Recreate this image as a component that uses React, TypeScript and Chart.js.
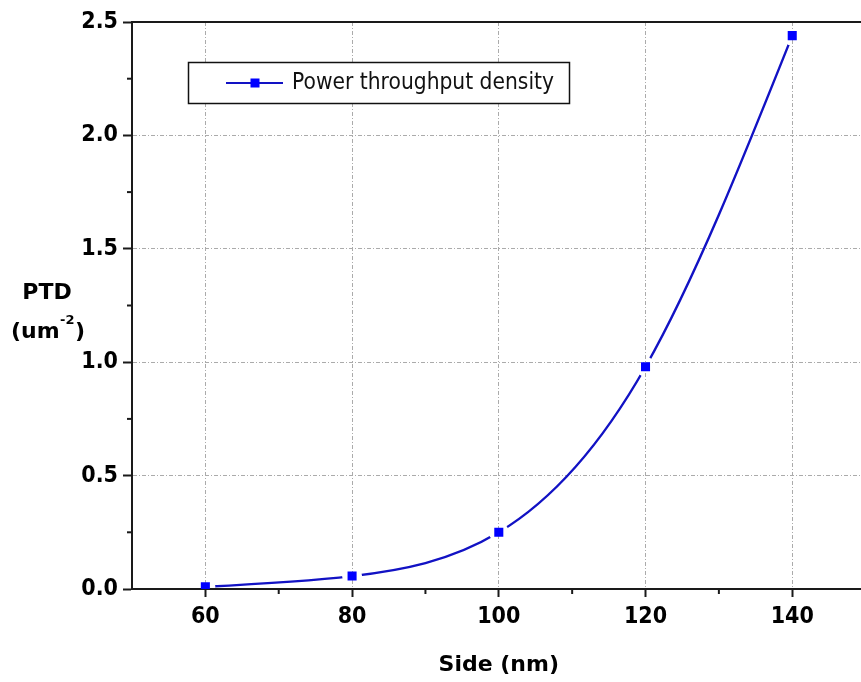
import { useEffect, useRef } from 'react';
import { Chart, registerables } from 'chart.js';

Chart.register(...registerables);

const sides = [60, 80, 100, 120, 140];
const ptd = [0.01, 0.057, 0.25, 0.98, 2.44];
const xTicks = [60, 80, 100, 120, 140];
const xMinorTicks = [70, 90, 110, 130, 150];
const yTicks = [0, 0.5, 1.0, 1.5, 2.0, 2.5];
const yMinorTicks = [0.25, 0.75, 1.25, 1.75, 2.25];
const seriesLabel = 'Power throughput density';
const xTitle = 'Side (nm)';
const yTitle = 'PTD';
const yUnitParts = ['(um', '-2', ')'];

const TICK_FONT = "'DejaVu Sans Condensed', 'DejaVu Sans', sans-serif";
const TITLE_FONT = "'DejaVu Sans', sans-serif";
const LINE_COLOR = '#1212c4';
const MARKER_COLOR = '#0000ff';
const AXIS_COLOR = '#1a1a1a';

// Natural cubic spline control points (in pixel space) for the line element
function applyNaturalSpline(pts: any[]) {
  const n = pts.length;
  if (n < 3) return;
  const xs = pts.map((p) => p.x);
  const ys = pts.map((p) => p.y);
  const h: number[] = [];
  for (let i = 0; i < n - 1; i++) h.push(xs[i + 1] - xs[i]);
  // tridiagonal solve for second derivatives M (natural: M0 = Mn-1 = 0)
  const M = new Array(n).fill(0);
  const m = n - 2;
  const a: number[] = [], b: number[] = [], c: number[] = [], d: number[] = [];
  for (let i = 1; i <= m; i++) {
    a.push(h[i - 1]);
    b.push(2 * (h[i - 1] + h[i]));
    c.push(h[i]);
    d.push(6 * ((ys[i + 1] - ys[i]) / h[i] - (ys[i] - ys[i - 1]) / h[i - 1]));
  }
  for (let i = 1; i < m; i++) {
    const w = a[i] / b[i - 1];
    b[i] -= w * c[i - 1];
    d[i] -= w * d[i - 1];
  }
  const sol = new Array(m).fill(0);
  sol[m - 1] = d[m - 1] / b[m - 1];
  for (let i = m - 2; i >= 0; i--) sol[i] = (d[i] - c[i] * sol[i + 1]) / b[i];
  for (let i = 0; i < m; i++) M[i + 1] = sol[i];
  for (let i = 0; i < n - 1; i++) {
    const hi = h[i];
    const sec = (ys[i + 1] - ys[i]) / hi;
    const d0 = sec - (hi * (2 * M[i] + M[i + 1])) / 6;
    const d1 = sec + (hi * (M[i] + 2 * M[i + 1])) / 6;
    pts[i].cp2x = xs[i] + hi / 3;
    pts[i].cp2y = ys[i] + (hi / 3) * d0;
    pts[i + 1].cp1x = xs[i + 1] - hi / 3;
    pts[i + 1].cp1y = ys[i + 1] - (hi / 3) * d1;
  }
}

const decorPlugin = {
  id: 'decor',
  beforeDatasetDraw(chart: any, args: any) {
    if (args.index !== 0) return;
    const ctx = chart.ctx;
    const meta = chart.getDatasetMeta(0);
    if (meta.dataset && meta.dataset.updateControlPoints) {
      meta.dataset.updateControlPoints(chart.chartArea, 'x');
    }
    applyNaturalSpline(meta.data);
    const pts = chart.getDatasetMeta(1).data;
    ctx.save();
    ctx.beginPath();
    ctx.rect(0, 0, chart.width, chart.height);
    const R = 10;
    pts.forEach((p: any) => {
      ctx.moveTo(p.x + R, p.y);
      ctx.arc(p.x, p.y, R, 0, Math.PI * 2);
    });
    ctx.clip('evenodd');
  },
  afterDatasetDraw(chart: any, args: any) {
    if (args.index !== 0) return;
    chart.ctx.restore();
  },
  afterDraw(chart: any) {
    const ctx = chart.ctx;
    const area = chart.chartArea;
    const xs = chart.scales.x;
    const ys = chart.scales.y;
    ctx.save();
    // top frame line
    ctx.strokeStyle = AXIS_COLOR;
    ctx.lineWidth = 2;
    ctx.beginPath();
    ctx.moveTo(area.left - 1, area.top);
    ctx.lineTo(area.right, area.top);
    ctx.stroke();
    // minor ticks
    ctx.lineWidth = 2;
    xMinorTicks.forEach((v) => {
      const px = xs.getPixelForValue(v);
      ctx.beginPath();
      ctx.moveTo(px, area.bottom);
      ctx.lineTo(px, area.bottom + 5);
      ctx.stroke();
    });
    yMinorTicks.forEach((v) => {
      const py = ys.getPixelForValue(v);
      ctx.beginPath();
      ctx.moveTo(area.left, py);
      ctx.lineTo(area.left - 5, py);
      ctx.stroke();
    });
    // y title
    ctx.fillStyle = '#000';
    ctx.textAlign = 'center';
    ctx.textBaseline = 'alphabetic';
    ctx.font = `bold 22px ${TITLE_FONT}`;
    ctx.fillText(yTitle, 47, 299);
    const bigFont = `bold 22px ${TITLE_FONT}`;
    const smallFont = `bold 13px ${TITLE_FONT}`;
    ctx.font = bigFont;
    const w0 = ctx.measureText(yUnitParts[0]).width;
    const w2 = ctx.measureText(yUnitParts[2]).width;
    ctx.font = smallFont;
    const w1 = ctx.measureText(yUnitParts[1]).width;
    const total = w0 + w1 + w2 + 1;
    let cx = 48 - total / 2;
    ctx.textAlign = 'left';
    ctx.font = bigFont;
    ctx.fillText(yUnitParts[0], cx, 338);
    cx += w0 + 0.5;
    ctx.font = smallFont;
    ctx.fillText(yUnitParts[1], cx, 324);
    cx += w1 + 0.5;
    ctx.font = bigFont;
    ctx.fillText(yUnitParts[2], cx, 338);
    // legend
    const lx = 188.5, ly = 62.5, lw = 381, lh = 41;
    ctx.fillStyle = '#fff';
    ctx.fillRect(lx, ly, lw, lh);
    ctx.strokeStyle = '#111';
    ctx.lineWidth = 1.5;
    ctx.strokeRect(lx, ly, lw, lh);
    const my = ly + lh / 2;
    ctx.strokeStyle = LINE_COLOR;
    ctx.lineWidth = 2.2;
    ctx.beginPath();
    ctx.moveTo(226, my);
    ctx.lineTo(283, my);
    ctx.stroke();
    ctx.fillStyle = MARKER_COLOR;
    ctx.fillRect(250.5, my - 4.5, 9, 9);
    ctx.fillStyle = '#111';
    ctx.font = `23px ${TITLE_FONT}`;
    ctx.textBaseline = 'middle';
    ctx.textAlign = 'left';
    ctx.fillText(chart.data.datasets[0].label, 292, my, 262);
    ctx.restore();
  },
};

export default function App() {
  const ref = useRef<HTMLCanvasElement | null>(null);
  useEffect(() => {
    if (!ref.current) return;
    const points = sides.map((x, i) => ({ x, y: ptd[i] }));
    const chart = new Chart(ref.current, {
      type: 'line',
      data: {
        datasets: [
          {
            label: seriesLabel,
            data: points,
            borderColor: LINE_COLOR,
            borderWidth: 2.4,
            pointRadius: 0,
            tension: 0.4,
            capBezierPoints: false,
            fill: false,
          },
          {
            label: seriesLabel,
            data: points,
            showLine: false,
            pointStyle: 'rect',
            pointRadius: 6.4,
            pointBackgroundColor: MARKER_COLOR,
            pointBorderWidth: 0,
            borderColor: MARKER_COLOR,
          },
        ],
      } as any,
      options: {
        responsive: false,
        animation: false,
        devicePixelRatio: 1,
        layout: { padding: { top: 22, right: 4, left: 0, bottom: 0 } },
        plugins: { legend: { display: false }, tooltip: { enabled: false } },
        events: [],
        scales: {
          x: {
            type: 'linear',
            min: 50,
            max: 150,
            afterBuildTicks: (axis: any) => {
              axis.ticks = xTicks.map((v) => ({ value: v }));
            },
            afterFit: (s: any) => {
              s.height = 93;
            },
            ticks: {
              color: '#000',
              font: { family: TICK_FONT, size: 23, weight: 'bold' },
              padding: 6,
              maxRotation: 0,
              autoSkip: false,
            },
            grid: {
              color: '#ababab',
              lineWidth: 1,
              tickColor: AXIS_COLOR,
              tickLength: 8,
              tickWidth: 2,
            },
            border: { display: true, color: AXIS_COLOR, width: 2, dash: [4, 2, 1, 2] },
            title: {
              display: true,
              text: xTitle,
              color: '#000',
              font: { family: TITLE_FONT, size: 22, weight: 'bold' },
              padding: { top: 0, bottom: 4 },
            },
          },
          y: {
            type: 'linear',
            min: 0,
            max: 2.5,
            afterBuildTicks: (axis: any) => {
              axis.ticks = yTicks.map((v) => ({ value: v }));
            },
            afterFit: (s: any) => {
              s.width = 132;
            },
            ticks: {
              color: '#000',
              font: { family: TICK_FONT, size: 23, weight: 'bold' },
              padding: 5,
              callback: (v: any) => Number(v).toFixed(1),
            },
            grid: {
              color: '#ababab',
              lineWidth: 1,
              tickColor: AXIS_COLOR,
              tickLength: 9,
              tickWidth: 2,
            },
            border: { display: true, color: AXIS_COLOR, width: 2, dash: [4, 2, 1, 2] },
          },
        },
      } as any,
      plugins: [decorPlugin],
    });
    return () => chart.destroy();
  }, []);
  return (
    <div
      style={{
        position: 'absolute',
        left: 0,
        top: 0,
        width: 861,
        height: 682,
        overflow: 'hidden',
        background: '#fff',
      }}
    >
      <canvas ref={ref} width={872} height={682} style={{ display: 'block' }} />
    </div>
  );
}
